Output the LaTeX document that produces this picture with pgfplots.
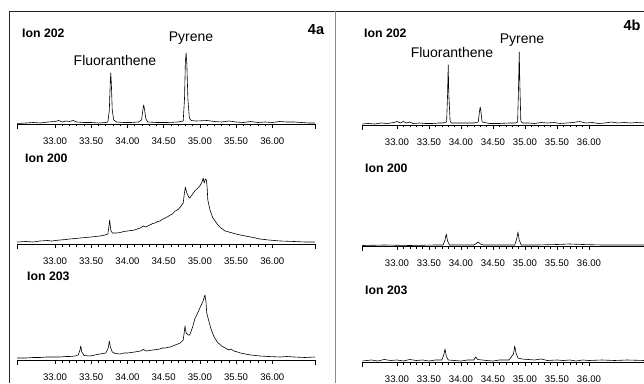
\documentclass[border=0pt]{standalone}
\usepackage{fontspec}
\setmainfont{Liberation Sans}
\usepackage{pgfplots}
\pgfplotsset{compat=1.18}
\begin{document}
\begin{tikzpicture}[x=1pt,y=1pt]
\useasboundingbox (0,0) rectangle (644,383);
\fill[white] (0,0) rectangle (644,383);
\pgfplotsset{
  chrom/.style={
    scale only axis, anchor=south west, height=100pt, ymin=0, ymax=100,
    axis x line=bottom, axis y line=none, axis line style={-, line width=0.6pt},
    clip=false,
    xtick={33,33.5,34,34.5,35,35.5,36},
    xticklabels={33.00,33.50,34.00,34.50,35.00,35.50,36.00},
    minor x tick num=4,
    tick align=outside,
    major tick length=4pt, minor tick length=2.5pt,
    tick style={black, line width=0.5pt},
    xticklabel style={font=\fontsize{9.6}{10}\selectfont, anchor=center, yshift=-13pt},
  },
  chromL/.style={chrom, width=298pt, xmin=32.475, xmax=36.59,
    extra x ticks={32.475,36.59}, extra x tick labels={}, extra x tick style={major tick length=5pt}},
  chromR/.style={chrom, width=282pt, xmin=32.453, xmax=36.86,
    extra x ticks={32.453}, extra x tick labels={}, extra x tick style={major tick length=5pt}},
  tr/.style={black, line width=0.6pt, line join=round, no marks},
}
% ---------------- Left panel (4a) ----------------
\begin{axis}[chromL, at={(17pt,259pt)}]
\addplot[tr] coordinates {(32.48,0.5) (32.6,1) (32.7,1.5) (32.8,1) (32.9,2) (33.0,2.5) (33.05,3.5) (33.1,2) (33.15,3) (33.2,2.5) (33.25,3.5) (33.3,2) (33.4,1.5) (33.5,1.5) (33.6,1) (33.7,1.5) (33.73,2) (33.75,14) (33.762,40) (33.77,51) (33.778,40) (33.79,14) (33.81,4) (33.85,2) (33.95,1.5) (34.05,1.5) (34.15,2) (34.195,4) (34.215,15) (34.225,19) (34.235,15) (34.255,5) (34.28,2) (34.4,1.5) (34.55,1.5) (34.7,2) (34.77,3) (34.788,25) (34.80,62) (34.81,71) (34.82,60) (34.835,25) (34.855,6) (34.88,3.5) (34.95,3) (35.1,3.5) (35.2,2.5) (35.3,2) (35.4,3) (35.5,2) (35.6,1.5) (35.7,2.5) (35.8,1.5) (35.9,2) (36.0,1.5) (36.1,2.5) (36.2,2) (36.3,2) (36.4,1.5) (36.5,1) (36.59,1)};
\end{axis}
\begin{axis}[chromL, at={(17pt,139pt)}]
\addplot[tr] coordinates {(32.475,2) (32.6,2.5) (32.7,2) (32.79,3) (32.9,3.5) (32.95,3) (33.07,4) (33.15,4.5) (33.2,5) (33.28,5.5) (33.35,6) (33.42,6.5) (33.5,7) (33.56,7.5) (33.62,8) (33.69,9) (33.73,10) (33.745,18) (33.755,24) (33.77,14) (33.79,11) (33.85,11) (33.90,11.5) (33.95,12.5) (34.0,13) (34.05,13.5) (34.10,14) (34.15,15.5) (34.18,16) (34.22,18) (34.25,17) (34.28,18) (34.31,19) (34.35,20.5) (34.38,21) (34.42,22.5) (34.45,23) (34.49,25) (34.52,26) (34.56,27.5) (34.59,29) (34.62,30) (34.66,33) (34.70,34.5) (34.73,37) (34.77,41) (34.785,50) (34.80,57) (34.82,51) (34.845,47) (34.86,46) (34.90,50) (34.93,53) (34.97,56) (35.00,58) (35.03,62) (35.045,66) (35.06,61) (35.075,65) (35.09,64) (35.10,57) (35.11,44) (35.14,34) (35.18,26) (35.22,22) (35.25,19) (35.30,15.5) (35.35,13) (35.40,12) (35.45,11) (35.50,10) (35.56,9) (35.63,8) (35.7,7) (35.77,6) (35.83,5) (35.95,4) (36.11,3) (36.3,2.5) (36.45,2) (36.59,2)};
\end{axis}
\begin{axis}[chromL, at={(17pt,23pt)}]
\addplot[tr] coordinates {(32.475,2) (32.6,2) (32.7,2.5) (32.79,2.5) (32.88,3) (32.95,3) (33.07,3) (33.15,3.5) (33.2,3.5) (33.28,4) (33.32,5) (33.345,10) (33.355,14) (33.37,8) (33.40,4.5) (33.48,4) (33.55,5) (33.62,6) (33.70,7) (33.735,12) (33.75,19) (33.765,13) (33.79,8) (33.83,6.5) (33.90,6) (33.95,7) (34.0,7) (34.05,7.5) (34.10,8) (34.18,9) (34.22,10.5) (34.26,9) (34.30,9.5) (34.35,10) (34.40,10.5) (34.45,11) (34.48,12) (34.52,12) (34.59,13) (34.66,15) (34.73,17) (34.77,20) (34.785,28) (34.795,34) (34.81,27) (34.84,25) (34.86,25) (34.90,33) (34.93,41) (34.97,47) (35.00,52) (35.04,58) (35.07,65) (35.085,58) (35.095,47) (35.12,40) (35.15,32) (35.19,24) (35.24,18) (35.30,14) (35.35,12) (35.40,10) (35.43,11) (35.47,9) (35.52,8) (35.56,7) (35.63,6) (35.7,5) (35.77,4.5) (35.83,4) (35.95,3.5) (36.11,3) (36.2,3.5) (36.3,3) (36.45,2.5) (36.59,3)};
\end{axis}
% ---------------- Right panel (4b) ----------------
\begin{axis}[chromR, at={(362pt,258pt)}]
\addplot[tr] coordinates {(32.46,1) (32.55,1.5) (32.65,1) (32.75,2) (32.85,1.5) (32.95,2.5) (33.0,3.5) (33.05,2) (33.1,3.5) (33.15,2) (33.2,3) (33.25,1.5) (33.35,2) (33.45,1.5) (33.55,1.5) (33.65,2) (33.72,2) (33.775,3) (33.79,30) (33.80,60) (33.81,30) (33.83,4) (33.85,2) (33.95,2) (34.1,2) (34.2,2) (34.27,3) (34.29,14) (34.30,18) (34.31,14) (34.33,3) (34.45,1.5) (34.6,1.5) (34.75,2) (34.85,2) (34.885,3) (34.90,40) (34.91,73) (34.92,40) (34.935,4) (34.96,2) (35.05,2) (35.15,1.5) (35.25,2.5) (35.35,2) (35.45,2.5) (35.55,1.5) (35.65,2) (35.75,2.5) (35.85,3.5) (35.95,2) (36.05,2.5) (36.15,1.5) (36.25,2) (36.35,3) (36.45,2) (36.55,2.5) (36.65,2) (36.75,2.5) (36.86,2)};
\end{axis}
\begin{axis}[chromR, at={(362pt,137pt)}]
\addplot[tr] coordinates {(32.46,0.5) (32.8,1) (33.2,0.5) (33.6,1) (33.72,1) (33.75,6) (33.77,12) (33.79,5) (33.82,1) (34.0,1) (34.2,1) (34.25,3) (34.27,4) (34.30,2) (34.35,1) (34.6,1) (34.84,1) (34.87,7) (34.89,14) (34.91,6) (34.94,1) (35.2,1) (35.5,1.5) (35.7,2) (35.9,1.5) (36.2,1) (36.5,1) (36.86,1)};
\end{axis}
\begin{axis}[chromR, at={(362pt,21pt)}]
\addplot[tr] coordinates {(32.46,1) (32.6,2) (32.7,1) (32.8,2.5) (32.9,1.5) (33.0,2) (33.1,1) (33.2,2.5) (33.3,1.5) (33.4,2) (33.5,1) (33.6,2) (33.70,2) (33.73,7) (33.75,13) (33.77,6) (33.80,2) (33.9,1.5) (34.0,1) (34.1,2) (34.20,2) (34.23,5) (34.26,2.5) (34.4,1.5) (34.5,1) (34.6,2) (34.75,2) (34.82,8) (34.84,16) (34.86,9) (34.89,4) (34.95,3) (35.05,2.5) (35.15,2) (35.25,3) (35.35,1.5) (35.5,2) (35.6,1.5) (35.7,2) (35.8,1) (35.9,2) (36.0,1.5) (36.2,2) (36.4,1.5) (36.6,2) (36.86,1.5)};
\end{axis}
% ---------------- frames ----------------
\draw[black!85, line width=0.8pt] (9,0) -- (9,372) -- (644,372);
\draw[black!45, line width=0.8pt] (335,0) -- (335,372);
% ---------------- texts ----------------
\tikzset{ionlab/.style={anchor=west, font=\bfseries\fontsize{12.3}{13}\selectfont, inner sep=0pt},
         cmp/.style={font=\fontsize{14}{15}\selectfont, inner sep=0pt},
         fig/.style={font=\bfseries\fontsize{14.5}{15}\selectfont, inner sep=0pt}}
\node[ionlab] at (22,350) {Ion 202};
\node[ionlab] at (25,225) {Ion 200};
\node[ionlab] at (27,107) {Ion 203};
\node[ionlab] at (364,350) {Ion 202};
\node[ionlab] at (365,215) {Ion 200};
\node[ionlab] at (365,93) {Ion 203};
\node[cmp] at (115,323) {Fluoranthene};
\node[cmp] at (191,345) {Pyrene};
\node[cmp] at (452,331) {Fluoranthene};
\node[cmp] at (522,343) {Pyrene};
\node[fig] at (316,353) {4a};
\node[fig] at (632,358) {4b};
\end{tikzpicture}
\end{document}
